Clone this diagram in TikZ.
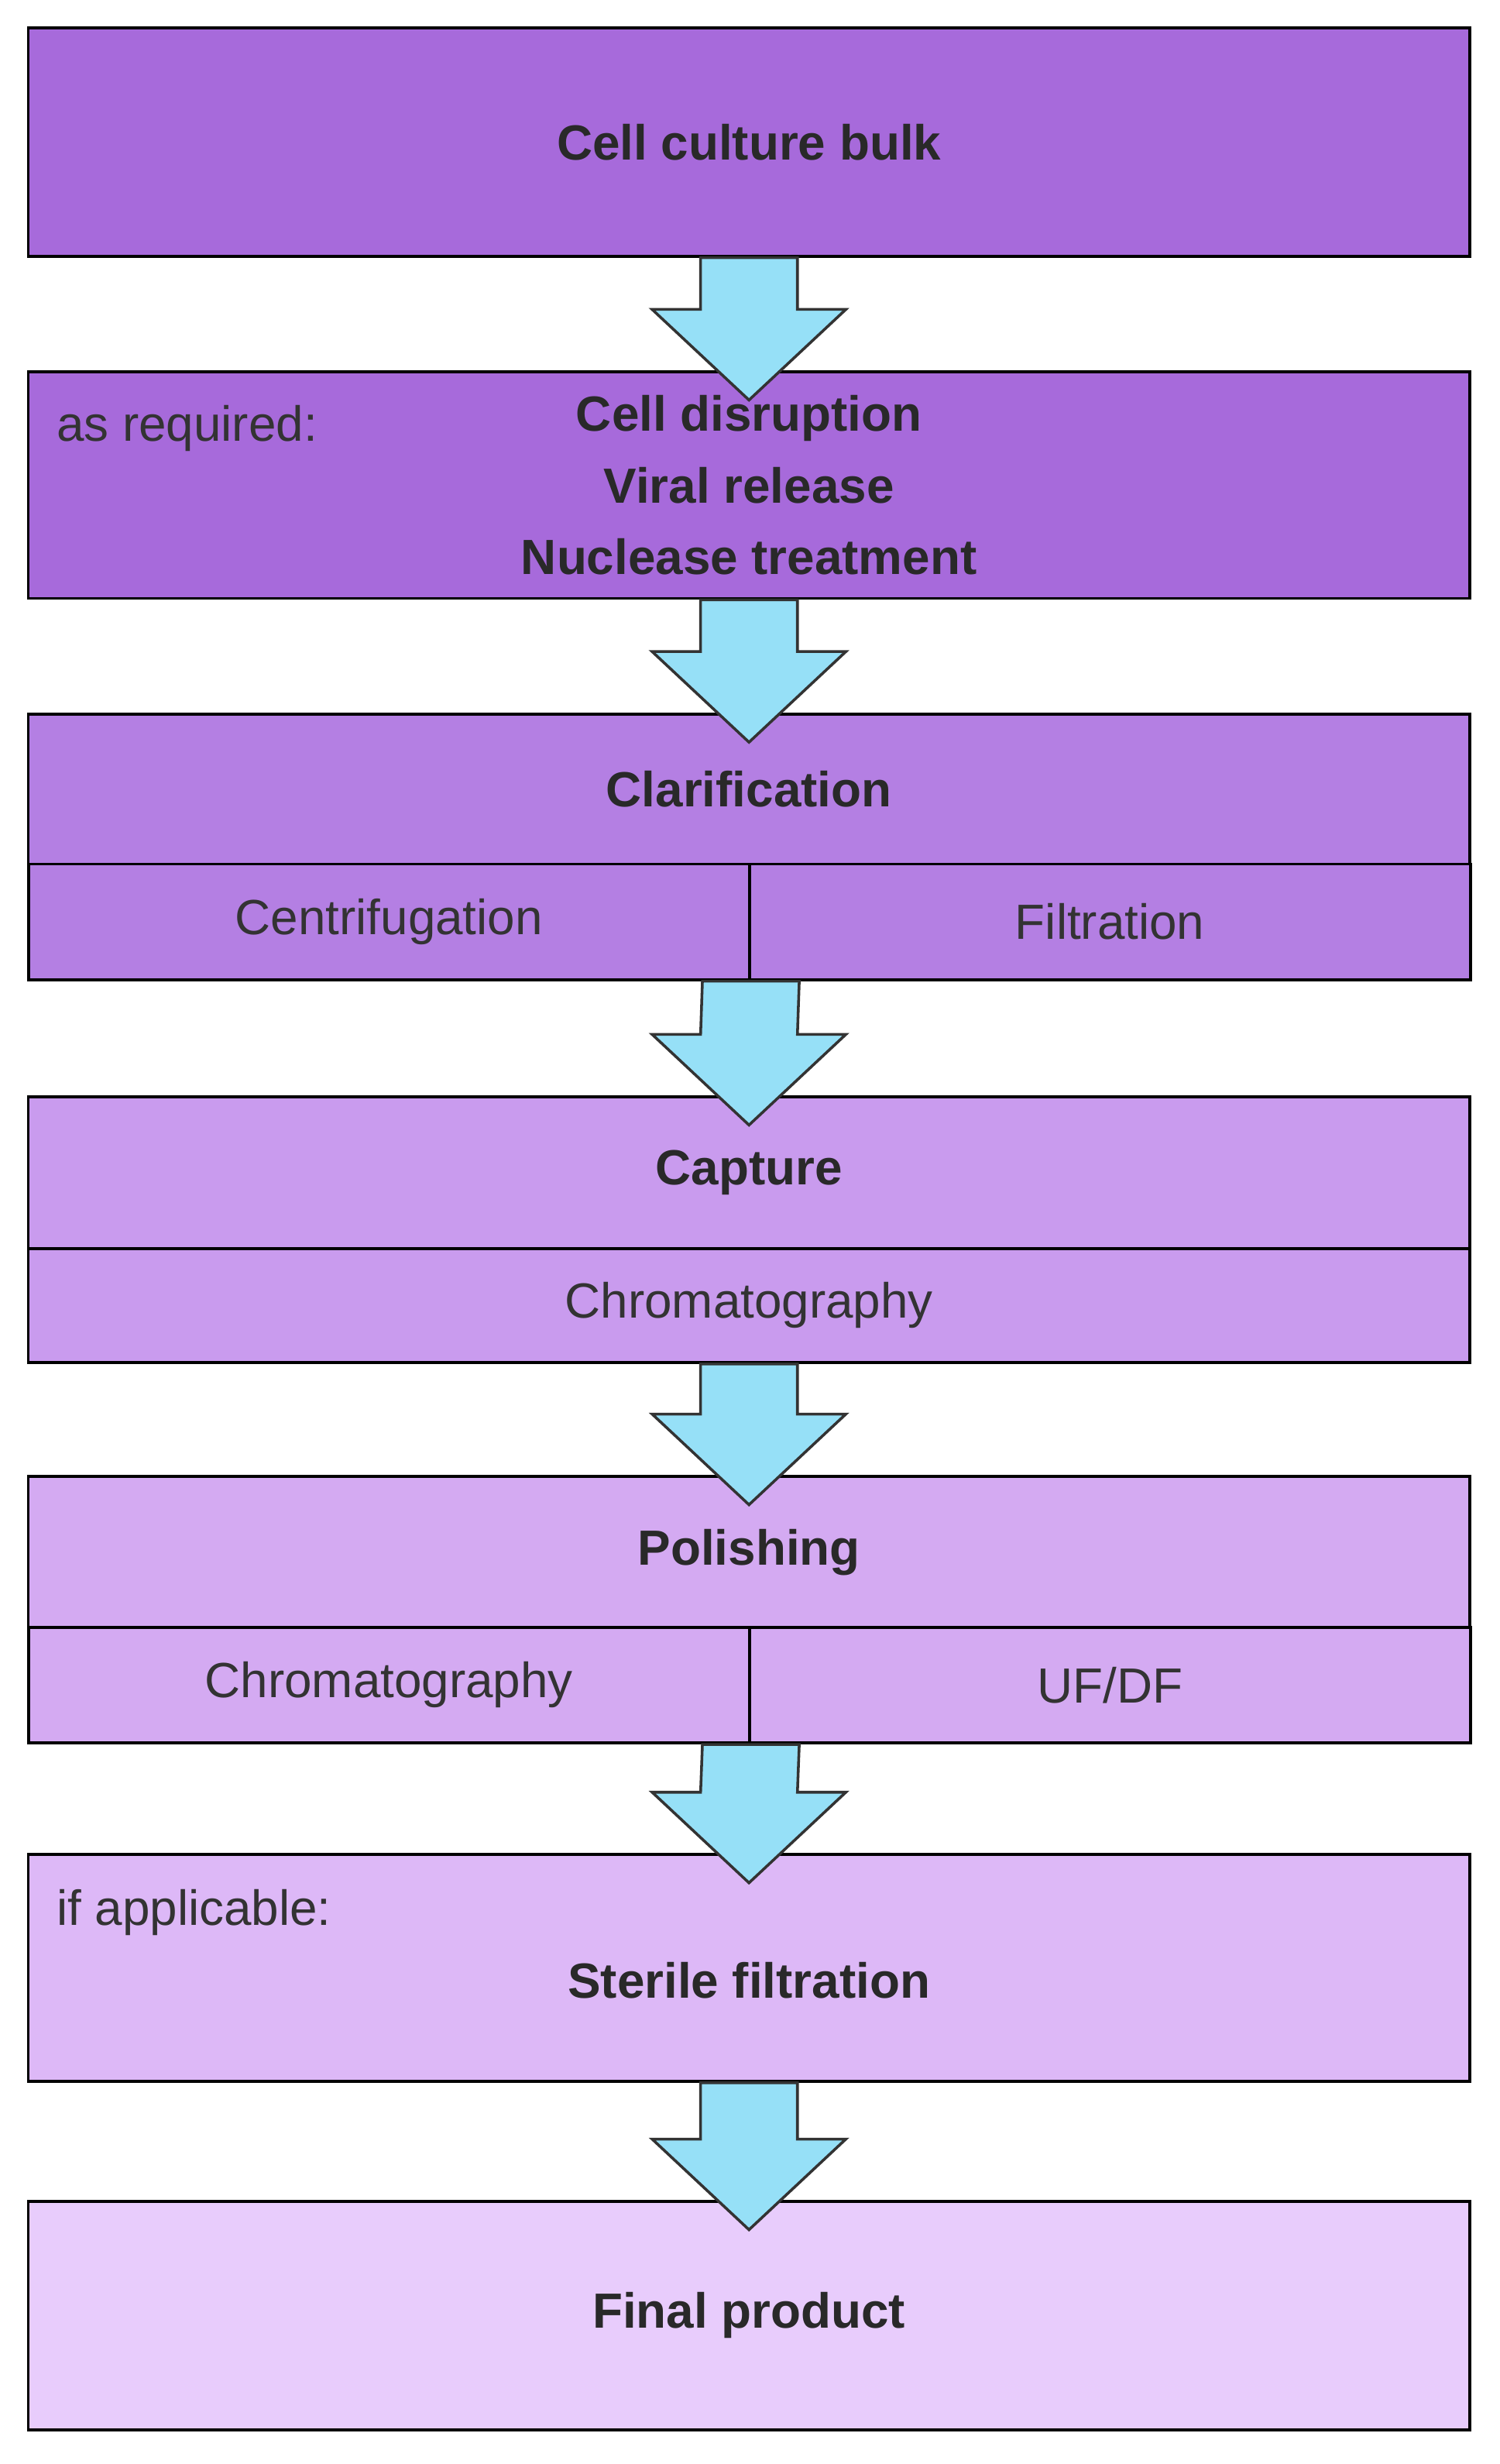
\documentclass[tikz,border=0pt]{standalone}
\usepackage{fontspec}
\setmainfont{Liberation Sans}
\usetikzlibrary{positioning,calc}
\definecolor{stepA}{HTML}{A76ADB}
\definecolor{stepB}{HTML}{B47FE3}
\definecolor{stepC}{HTML}{C99BEE}
\definecolor{stepD}{HTML}{D4AAF2}
\definecolor{stepE}{HTML}{DDB8F7}
\definecolor{stepF}{HTML}{E8CCFC}
\definecolor{flow}{HTML}{96E0F7}
\definecolor{txt}{HTML}{333333}
\tikzset{
  box/.style={draw, line width=1.1pt, minimum width=18.46cm, inner sep=0pt, font=\fontsize{18}{26}\selectfont\bfseries, text=txt!80!black, align=center},
  cell/.style={draw, line width=1.1pt, minimum width=9.23cm, minimum height=1.48cm, inner sep=0pt, font=\fontsize{18}{22}\selectfont, text=txt},
  note/.style={font=\fontsize{18}{22}\selectfont, text=txt, anchor=west},
  flowarrow/.style={draw=black!80, fill=flow, line width=1pt, line join=miter}
}
% block arrow from one box to the next
\newcommand{\stepflow}[2]{%
  \draw[flowarrow] ($(#1)+(-31,0)$) -- ($(#2)+(-31,-39)$) -- ($(#2)+(-62,-39)$)
    -- ($(#2)+(0,19)$) -- ($(#2)+(62,-39)$) -- ($(#2)+(31,-39)$)
    -- ($(#1)+(31,0)$) -- cycle;}

\begin{document}
\begin{tikzpicture}[x=0.02cm, y=-0.02cm]
\useasboundingbox (0,0) rectangle (960,1577);

\node [box, fill=stepA, minimum height=2.92cm] (bulk) at (479.5,91) {Cell culture bulk};
\node [box, fill=stepA, minimum height=2.9cm] (disrupt) at (479.5,310.5) {Cell disruption\\Viral release\\Nuclease treatment};
\node [note] (required) at (30,274) {as required:};

\node [box, fill=stepB, minimum height=1.92cm] (clarif) at (479.5,505) {Clarification};
\node [cell, fill=stepB] (centri) at (249,590) {Centrifugation};
\node [cell, fill=stepB] (filt) at (710.5,590) {Filtration};

\node [box, fill=stepC, minimum height=1.94cm] (capture) at (479.5,750.5) {Capture};
\node [box, fill=stepC, minimum height=1.46cm, font=\fontsize{18}{22}\selectfont, text=txt] (chrom) at (479.5,835.5) {Chromatography};

\node [box, fill=stepD, minimum height=1.94cm] (polish) at (479.5,993.5) {Polishing};
\node [cell, fill=stepD] (chromb) at (249,1078.5) {Chromatography};
\node [cell, fill=stepD] (ufdf) at (710.5,1078.5) {UF/DF};

\node [box, fill=stepE, minimum height=2.9cm] (sterile) at (479.5,1259.5) {\\[-4pt]Sterile filtration};
\node [note] (applic) at (30,1224) {if applicable:};

\node [box, fill=stepF, minimum height=2.92cm] (final) at (479.5,1482) {Final product};

\stepflow{bulk.south}{disrupt.north}
\stepflow{disrupt.south}{clarif.north}
\stepflow{centri.south east}{capture.north}
\stepflow{chrom.south}{polish.north}
\stepflow{chromb.south east}{sterile.north}
\stepflow{sterile.south}{final.north}
\end{tikzpicture}
\end{document}
